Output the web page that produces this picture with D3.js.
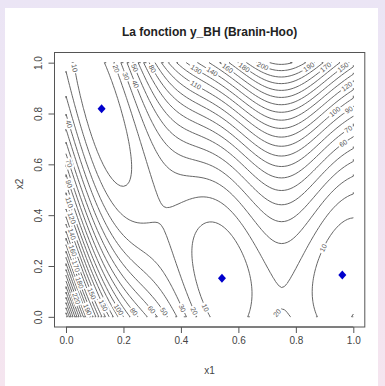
<!DOCTYPE html>
<html>
<head>
<meta charset="utf-8">
<title>La fonction y_BH (Branin-Hoo)</title>
<script src="https://cdn.jsdelivr.net/npm/d3@7/dist/d3.min.js"></script>
<style>
  body { margin: 0; }
  text { font-family: "Liberation Sans", Arial, sans-serif; }
</style>
</head>
<body>
<svg width="385" height="386"></svg>
<script>
// ---- data ----
var title = "La fonction y_BH (Branin-Hoo)";
var levels = [10, 20, 30, 40, 50, 60, 70, 80, 90, 100, 110, 120, 130, 140, 150,
              160, 170, 180, 190, 200, 210, 220, 230, 240, 250, 260, 270, 280, 290, 300];
var xTicks = [0, 0.2, 0.4, 0.6, 0.8, 1.0];
var yTicks = [0, 0.2, 0.4, 0.6, 0.8, 1.0];
// the three global minima (blue diamonds)
var minX1 = [0.1239, 0.5428, 0.9617];
var minX2 = [0.8183, 0.1517, 0.1650];
var gridN = 101;  // evaluation grid, per side

// Branin-Hoo on [0,1]^2 (rescaled inputs)
function yBH(u, v) {
  var x1 = 15 * u - 5, x2 = 15 * v;
  var b = 5.1 / (4 * Math.PI * Math.PI), c = 5 / Math.PI, t = 1 / (8 * Math.PI);
  return Math.pow(x2 - b * x1 * x1 + c * x1 - 6, 2) + 10 * (1 - t) * Math.cos(x1) + 10;
}

var svg = d3.select("svg");

// background frame
var grad = svg.append("defs").append("linearGradient")
    .attr("id", "bg").attr("x1", 0).attr("y1", 0).attr("x2", 0).attr("y2", 1);
grad.append("stop").attr("offset", "0%").attr("stop-color", "#ebe5f5");
grad.append("stop").attr("offset", "100%").attr("stop-color", "#f5e5ef");
svg.append("rect").attr("width", 385).attr("height", 386).attr("fill", "url(#bg)");
svg.append("rect").attr("x", 5).attr("y", 8).attr("width", 373).attr("height", 378).attr("fill", "#fff");

var x = d3.scaleLinear().domain([-0.04, 1.04]).range([54.5, 364.8]);
var y = d3.scaleLinear().domain([-0.04, 1.04]).range([327, 52.5]);

svg.append("clipPath").attr("id", "clip").append("rect")
    .attr("x", x(0) - 1).attr("y", y(1) - 1)
    .attr("width", x(1) - x(0) + 2).attr("height", y(0) - y(1) + 2);

// grid values
var gu = d3.range(gridN).map(function(i) { return i / (gridN - 1); });
var values = [];
gu.forEach(function(v) { gu.forEach(function(u) { values.push(yBH(u, v)); }); });

var contours = d3.contours().size([gridN, gridN]).thresholds(levels)(values);

function onEdge(p, q) {
  return (p[0] === 0 && q[0] === 0) || (p[0] === gridN && q[0] === gridN) ||
         (p[1] === 0 && q[1] === 0) || (p[1] === gridN && q[1] === gridN);
}
function toPx(p) {
  var cx = Math.min(Math.max(p[0], 0.5), gridN - 0.5),
      cy = Math.min(Math.max(p[1], 0.5), gridN - 0.5);
  return [x((cx - 0.5) / (gridN - 1)), y((cy - 0.5) / (gridN - 1))];
}

// split the filled rings into open contour lines (drop the grid border)
var lines = [];
contours.forEach(function(ct) {
  ct.coordinates.forEach(function(poly) {
    poly.forEach(function(ring) {
      var pts = ring.slice(0, ring.length - 1), m = pts.length, start = -1;
      for (var k = 0; k < m; k++) {
        if (onEdge(pts[k], pts[(k + 1) % m])) { start = k; break; }
      }
      if (start < 0) {
        lines.push({ level: ct.value, pts: ring.map(toPx) });
        return;
      }
      var cur = [];
      for (var j = 0; j < m; j++) {
        var p = pts[(start + j) % m], q = pts[(start + j + 1) % m];
        if (onEdge(p, q)) {
          if (cur.length > 1) lines.push({ level: ct.value, pts: cur.map(toPx) });
          cur = [];
        } else {
          if (!cur.length) cur.push(p);
          cur.push(q);
        }
      }
      if (cur.length > 1) lines.push({ level: ct.value, pts: cur.map(toPx) });
    });
  });
});

var plot = svg.append("g").attr("clip-path", "url(#clip)");
plot.selectAll("path.ct").data(lines).enter().append("path")
    .attr("class", "ct")
    .attr("d", function(d) { return d3.line()(d.pts); })
    .attr("fill", "none").attr("stroke", "#555").attr("stroke-width", 0.9);

// contour labels: flattest stretch of each line, avoiding other labels
var fs = 7, placed = [];
function pointAt(pts, cum, s) {
  var k = d3.bisectRight(cum, s) - 1;
  k = Math.max(0, Math.min(k, pts.length - 2));
  var t = (s - cum[k]) / ((cum[k + 1] - cum[k]) || 1);
  return [pts[k][0] + t * (pts[k + 1][0] - pts[k][0]), pts[k][1] + t * (pts[k + 1][1] - pts[k][1])];
}
lines.forEach(function(d) {
  var pts = d.pts, txt = String(d.level);
  var w = txt.length * 0.556 * fs + 3;
  var cum = [0];
  for (var k = 1; k < pts.length; k++) {
    cum.push(cum[k - 1] + Math.hypot(pts[k][0] - pts[k - 1][0], pts[k][1] - pts[k - 1][1]));
  }
  var L = cum[cum.length - 1];
  if (L < w + 4) return;
  var best = null, bestScore = Infinity;
  for (var s = w / 2 + 1; s <= L - w / 2 - 1; s += 1) {
    var a = pointAt(pts, cum, s - w / 2), b = pointAt(pts, cum, s + w / 2), c = pointAt(pts, cum, s);
    if (c[0] < x(0) + 3 || c[0] > x(1) - 3 || c[1] < y(1) + 3 || c[1] > y(0) - 3) continue;
    var dx = b[0] - a[0], dy = b[1] - a[1], len = Math.hypot(dx, dy) || 1, dev = 0;
    for (var j = 0; j < pts.length; j++) {
      if (cum[j] > s - w / 2 && cum[j] < s + w / 2) {
        dev = Math.max(dev, Math.abs((pts[j][0] - a[0]) * dy - (pts[j][1] - a[1]) * dx) / len);
      }
    }
    var clash = placed.some(function(p) {
      return Math.hypot(p.c[0] - c[0], p.c[1] - c[1]) < (p.w + w) / 2 + 1;
    });
    if (clash) continue;
    var score = Math.round(dev * 4) / 4 + Math.min(s, L - s) * 0.002;
    if (score < bestScore) { bestScore = score; best = { c: c, w: w, ang: Math.atan2(dy, dx) * 180 / Math.PI }; }
  }
  if (!best) return;
  if (best.ang > 90) best.ang -= 180;
  if (best.ang <= -90) best.ang += 180;
  placed.push(best);
  var g = svg.append("g")
      .attr("transform", "translate(" + best.c[0] + "," + best.c[1] + ") rotate(" + best.ang + ")");
  g.append("rect").attr("x", -w / 2).attr("y", -fs / 2 - 0.5).attr("width", w).attr("height", fs + 1)
      .attr("fill", "#fff");
  g.append("text").attr("text-anchor", "middle").attr("dy", "0.35em")
      .attr("font-size", fs).attr("fill", "#555").text(txt);
});

// minima
svg.selectAll("path.mn").data(minX1).enter().append("path")
    .attr("class", "mn")
    .attr("transform", function(d, i) { return "translate(" + x(d) + "," + y(minX2[i]) + ")"; })
    .attr("d", "M0,-4.5L4,0L0,4.5L-4,0Z")
    .attr("fill", "#0000cc");

// box and axes
svg.append("rect").attr("x", x(-0.04)).attr("y", y(1.04))
    .attr("width", x(1.04) - x(-0.04)).attr("height", y(-0.04) - y(1.04))
    .attr("fill", "none").attr("stroke", "#555").attr("stroke-width", 1);

var xAxis = svg.append("g").attr("transform", "translate(0," + y(-0.04) + ")")
    .call(d3.axisBottom(x).tickValues(xTicks).tickFormat(d3.format(".1f")).tickSize(6).tickPadding(4));
var yAxis = svg.append("g").attr("transform", "translate(" + x(-0.04) + ",0)")
    .call(d3.axisLeft(y).tickValues(yTicks).tickFormat(d3.format(".1f")).tickSize(6));
[xAxis, yAxis].forEach(function(a) {
  a.select(".domain").attr("stroke", "#555").attr("d", a === xAxis
      ? "M" + x(0) + ",0H" + x(1) : "M0," + y(0) + "V" + y(1));
  a.selectAll(".tick line").attr("stroke", "#555");
  a.selectAll(".tick text").attr("fill", "#444").attr("font-size", 10)
      .attr("font-family", "Liberation Sans, Arial, sans-serif");
});
yAxis.selectAll(".tick text")
    .attr("x", null).attr("dy", null).attr("text-anchor", "middle")
    .attr("transform", "translate(-12.5,0) rotate(-90)");

svg.append("text").attr("x", 209.6).attr("y", 36).attr("text-anchor", "middle")
    .attr("font-size", 12).attr("font-weight", "bold").attr("fill", "#222").text(title);
svg.append("text").attr("x", 209.6).attr("y", 374).attr("text-anchor", "middle")
    .attr("font-size", 10).attr("fill", "#444").text("x1");
svg.append("text").attr("transform", "translate(23,184) rotate(-90)").attr("text-anchor", "middle")
    .attr("font-size", 10).attr("fill", "#444").text("x2");
</script>
</body>
</html>
